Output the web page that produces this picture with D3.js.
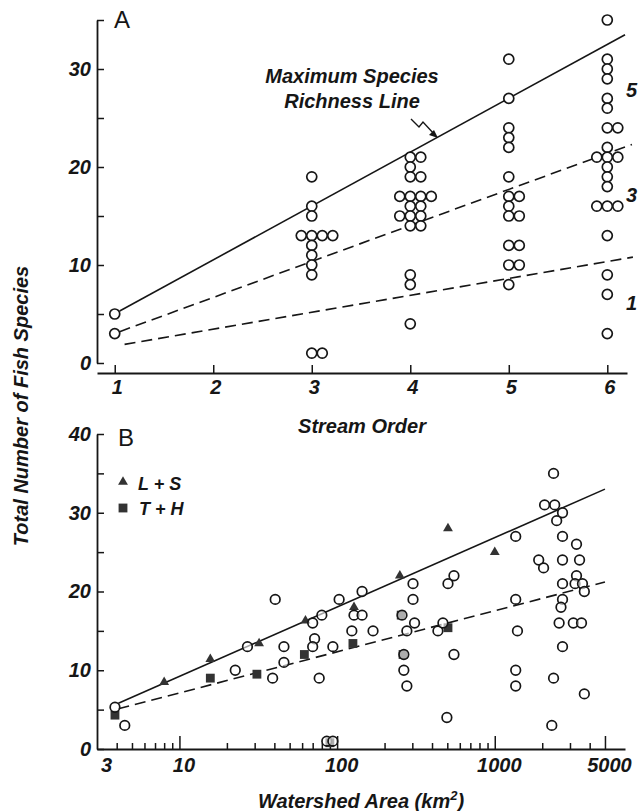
<!DOCTYPE html>
<html>
<head>
<meta charset="utf-8">
<script src="https://cdn.jsdelivr.net/npm/d3@7"></script>
<style>
  body { margin: 0; background: #fff; }
  svg text { font-family: "Liberation Sans", Arial, sans-serif; fill: #161616; }
  .lbl { font-style: italic; font-weight: bold; font-size: 20px; }
  .panel { font-size: 24px; }
  .axis path, .axis line { stroke: #161616; }
</style>
</head>
<body>
<div id="chart"></div>
<script>
// ---- panel A: species count by stream order ----
var streamOrders = [1, 3, 4, 5, 6];
var speciesO1 = [5, 3];
var speciesO3 = [19, 16, 15, 13, 13, 13, 13, 12, 11, 10, 9, 1, 1];
var speciesO4 = [21, 21, 20, 19, 19, 17, 17, 17, 17, 16, 16, 15, 15, 15, 14, 14, 9, 8, 4];
var speciesO5 = [31, 27, 24, 23, 22, 19, 17, 17, 16, 15, 15, 12, 12, 10, 10, 8];
var speciesO6 = [35, 31, 30, 29, 27, 26, 24, 24, 22, 21, 21, 21, 20, 19, 18, 16, 16, 16, 13, 9, 7, 3];

// fitted lines (end points)
var maxLineA = [[1.05, 5.3], [6.18, 33.5]];
var line3A = [[1.05, 3.2], [6.25, 22.3]];
var line1A = [[1.1, 1.9], [6.26, 10.8]];
var lineTagsA = ["5", "3", "1"];

var yTicksA = [0, 5, 10, 15, 20, 25, 30, 35];
var xTicksA = [1, 2, 3, 4, 5, 6];

// ---- panel B: species count by watershed area ----
var areaOther = [3.9, 4.5, 22.6, 27, 39, 40.5, 46, 46, 70, 80, 72, 70, 77, 86, 94, 103, 94, 124, 128, 144,
  144, 169, 258, 265, 277, 310, 265, 277, 303, 303, 436, 469, 497, 505, 551, 551, 1358, 1358, 1393, 1358,
  1358, 1900, 2040, 2070, 2360, 2400, 2690, 2470, 2690, 3300, 2690, 3450, 3300, 2690, 3230, 3600, 3700, 2690, 2630, 2560,
  3150, 3550, 2690, 2360, 3700, 2300];
var speciesOther = [5.3, 3, 10, 13, 9, 19, 13, 11, 16, 17, 14, 13, 9, 1, 1, 19, 13, 15, 17, 17,
  20, 15, 17, 12, 15, 16, 10, 8, 21, 19, 15, 16, 4, 21, 22, 12, 27, 19, 15, 10,
  8, 24, 23, 31, 35, 31, 30, 29, 27, 26, 24, 24, 22, 21, 21, 21, 20, 19, 18, 16,
  16, 16, 13, 9, 7, 3];

var areaLS = [8, 15.7, 32, 63, 128, 250, 505, 1000];
var speciesLS = [8.5, 11.4, 13.4, 16.3, 18, 22, 28, 25];

var areaTH = [3.9, 15.7, 31, 62, 90, 126, 255, 262, 505];
var speciesTH = [4.3, 9, 9.5, 12, 0.8, 13.4, 17, 12, 15.4];

var lineLS = [[4.1, 5.8], [5000, 33]];
var lineTH = [[4.1, 5.1], [5000, 21.2]];

var yTicksB = [0, 5, 10, 15, 20, 25, 30, 35, 40];
var xMajorB = [10, 100, 1000, 5000];
var xMinorB = [4, 5, 6, 7, 8, 9, 20, 30, 40, 50, 60, 70, 80, 90,
  200, 300, 400, 500, 600, 700, 800, 900, 2000, 3000, 4000];
var xLabelsB = [3, 10, 100, 1000, 5000];

// svg container
var svgWidth = 639;
var svgHeight = 811;
var ink = "#161616";

var svg = d3.select("#chart").append("svg")
  .attr("width", svgWidth)
  .attr("height", svgHeight);

svg.append("rect").attr("width", svgWidth).attr("height", svgHeight).attr("fill", "#fff");

// scales
var xA = d3.scaleLinear().domain([0.82, 6.2]).range([97, 627]);
var yA = d3.scaleLinear().domain([0, 35]).range([363, 20]);
var xB = d3.scaleLog().domain([3, 6700]).range([97, 625]);
var yB = d3.scaleLinear().domain([0, 40]).range([749, 434]);

function styleAxis(g) {
  g.attr("font-family", null).attr("font-size", null).classed("axis", true);
  g.select(".domain").attr("stroke-width", 1.8);
  g.selectAll(".tick line").attr("stroke-width", 1.5);
  g.selectAll(".tick text").attr("class", "lbl");
}

// ---------- Panel A ----------
svg.append("g")
  .attr("transform", "translate(97,0)")
  .call(d3.axisLeft(yA).tickValues(yTicksA).tickSize(-7).tickSizeOuter(0).tickPadding(6)
    .tickFormat(d => d % 10 === 0 ? d : ""))
  .call(styleAxis);

svg.append("g")
  .attr("transform", "translate(0,373)")
  .call(d3.axisBottom(xA).tickValues(xTicksA).tickSize(-8).tickSizeOuter(0).tickPadding(7)
    .tickFormat(d3.format("d")))
  .call(styleAxis)
  .selectAll(".tick text").attr("dx", 2);

var lineGenA = d3.line().x(d => xA(d[0])).y(d => yA(d[1]));

svg.append("path").datum(maxLineA).attr("d", lineGenA)
  .attr("fill", "none").attr("stroke", ink).attr("stroke-width", 1.6);
svg.append("path").datum(line3A).attr("d", lineGenA)
  .attr("fill", "none").attr("stroke", ink).attr("stroke-width", 1.6).attr("stroke-dasharray", "11,6");
svg.append("path").datum(line1A).attr("d", lineGenA)
  .attr("fill", "none").attr("stroke", ink).attr("stroke-width", 1.6).attr("stroke-dasharray", "11,6");

// build points, duplicates sit side by side
var speciesByOrder = [speciesO1, speciesO3, speciesO4, speciesO5, speciesO6];
var pointsA = [];
streamOrders.forEach(function(order, k) {
  var counts = d3.rollup(speciesByOrder[k], v => v.length, d => d);
  var seen = new Map();
  speciesByOrder[k].forEach(function(val) {
    var n = counts.get(val);
    var i = seen.get(val) || 0;
    seen.set(val, i + 1);
    pointsA.push({ order: order, species: val, slot: i - Math.floor((n - 1) / 2) });
  });
});

svg.append("g").selectAll("circle")
  .data(pointsA)
  .enter()
  .append("circle")
  .attr("cx", d => xA(d.order) + d.slot * 10.5)
  .attr("cy", d => yA(d.species))
  .attr("r", 5)
  .attr("fill", "#fff")
  .attr("stroke", ink)
  .attr("stroke-width", 1.7);

// line tags at the right edge
var tagY = [97, 202, 310];
svg.selectAll(".tagA")
  .data(lineTagsA)
  .enter()
  .append("text")
  .attr("class", "lbl")
  .attr("x", 626)
  .attr("y", (d, i) => tagY[i])
  .text(d => d);

// annotation
svg.append("text").attr("class", "lbl").attr("x", 352).attr("y", 83)
  .attr("text-anchor", "middle").text("Maximum Species");
svg.append("text").attr("class", "lbl").attr("x", 352).attr("y", 108)
  .attr("text-anchor", "middle").text("Richness Line");
svg.append("path")
  .attr("d", "M411,119 L419,127 L423,122 L435,135")
  .attr("fill", "none").attr("stroke", ink).attr("stroke-width", 1.4);
svg.append("path")
  .attr("d", "M438,138 L429,135 L434,130 Z")
  .attr("fill", ink);

svg.append("text").attr("class", "panel").attr("x", 114).attr("y", 28).text("A");

svg.append("text").attr("class", "lbl").attr("x", 362).attr("y", 433)
  .attr("text-anchor", "middle").text("Stream Order");

// ---------- Panel B ----------
svg.append("g")
  .attr("transform", "translate(97,0)")
  .call(d3.axisLeft(yB).tickValues(yTicksB).tickSize(-7).tickSizeOuter(0).tickPadding(6)
    .tickFormat(d => d % 10 === 0 ? d : ""))
  .call(styleAxis);

svg.append("g")
  .attr("transform", "translate(0,749)")
  .call(d3.axisBottom(xB).tickValues(xMinorB).tickSize(-6).tickSizeOuter(0).tickFormat(""))
  .call(styleAxis);

svg.append("g")
  .attr("transform", "translate(0,749)")
  .call(d3.axisBottom(xB).tickValues(xMajorB).tickSize(-13).tickSizeOuter(0).tickFormat(""))
  .call(styleAxis)
  .select(".domain").remove();

var labelAxisB = svg.append("g")
  .attr("transform", "translate(0,749)")
  .call(d3.axisBottom(xB).tickValues(xLabelsB).tickSize(0).tickPadding(9).tickFormat(d3.format("d")))
  .call(styleAxis);
labelAxisB.select(".domain").remove();
labelAxisB.selectAll(".tick text").attr("dx", d => d === 3 ? 9 : 4);

var lineGenB = d3.line().x(d => xB(d[0])).y(d => yB(d[1]));

svg.append("path").datum(lineLS).attr("d", lineGenB)
  .attr("fill", "none").attr("stroke", ink).attr("stroke-width", 1.6);
svg.append("path").datum(lineTH).attr("d", lineGenB)
  .attr("fill", "none").attr("stroke", ink).attr("stroke-width", 1.6).attr("stroke-dasharray", "11,6");

var pointsOther = areaOther.map((a, i) => ({ area: a, species: speciesOther[i] }));
var pointsLS = areaLS.map((a, i) => ({ area: a, species: speciesLS[i] }));
var pointsTH = areaTH.map((a, i) => ({ area: a, species: speciesTH[i] }));

var triangle = d3.symbol().type(d3.symbolTriangle).size(42);
var square = d3.symbol().type(d3.symbolSquare).size(78);

svg.append("g").selectAll("path")
  .data(pointsTH)
  .enter()
  .append("path")
  .attr("d", square)
  .attr("transform", d => `translate(${xB(d.area)},${yB(d.species)})`)
  .attr("fill", "#333");

svg.append("g").selectAll("path")
  .data(pointsLS)
  .enter()
  .append("path")
  .attr("d", triangle)
  .attr("transform", d => `translate(${xB(d.area)},${yB(d.species)})`)
  .attr("fill", "#333");

// open circles on top, slightly see-through so hidden squares show grey
svg.append("g").selectAll("circle")
  .data(pointsOther)
  .enter()
  .append("circle")
  .attr("cx", d => xB(d.area))
  .attr("cy", d => yB(d.species))
  .attr("r", 4.8)
  .attr("fill", "#fff")
  .attr("fill-opacity", 0.6)
  .attr("stroke", ink)
  .attr("stroke-width", 1.7);

// legend
svg.append("path").attr("d", triangle).attr("transform", "translate(123,482)").attr("fill", "#333");
svg.append("text").attr("class", "lbl").style("font-size", "18px")
  .attr("x", 138).attr("y", 490).text("L + S");
svg.append("path").attr("d", square).attr("transform", "translate(123,508)").attr("fill", "#333");
svg.append("text").attr("class", "lbl").style("font-size", "18px")
  .attr("x", 139).attr("y", 515).text("T + H");

svg.append("text").attr("class", "panel").attr("x", 118).attr("y", 446).text("B");

// axis titles
var xTitleB = svg.append("text").attr("class", "lbl").attr("x", 361).attr("y", 808)
  .attr("text-anchor", "middle");
xTitleB.append("tspan").text("Watershed Area (km");
xTitleB.append("tspan").attr("dy", -8).style("font-size", "13px").text("2");
xTitleB.append("tspan").attr("dy", 8).text(")");

svg.append("text").attr("class", "lbl")
  .attr("transform", "translate(28,406) rotate(-90)")
  .attr("text-anchor", "middle")
  .text("Total Number of Fish Species");
</script>
</body>
</html>
